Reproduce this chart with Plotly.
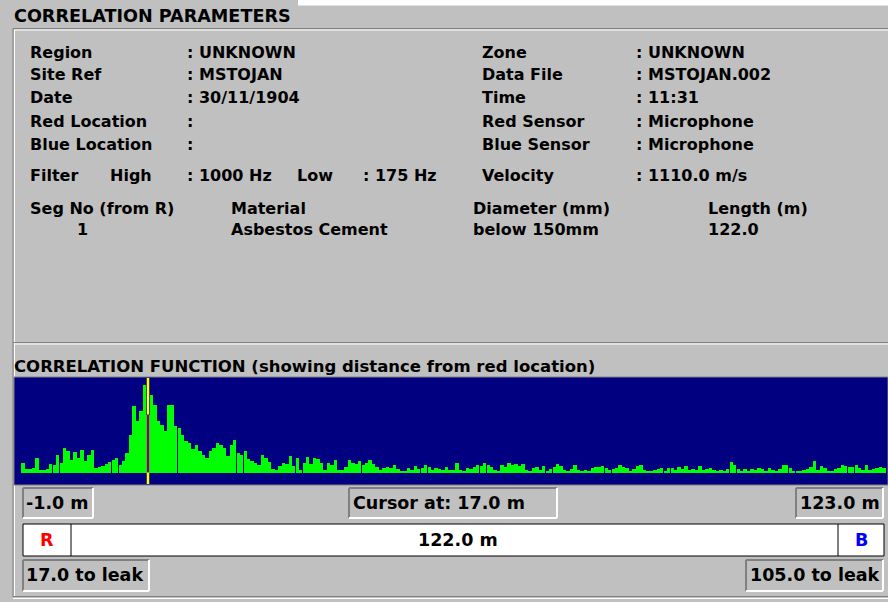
import plotly.graph_objects as go

# ---------------- data ----------------
dist_start_m = -1.0
dist_step_m = 0.5
corr_seg_a = [10, 4, 4, 5, 15, 3, 3, 4, 9, 8,
              18, 10, 25, 22, 13, 21, 15, 23, 12, 18,
              23, 5, 6, 7, 9, 11, 13, 15, 8, 12,
              20, 38, 67, 52, 62, 88, 58, 78, 68, 52,
              48, 42, 68, 68, 47, 45, 38, 32, 30, 24,
              28, 22, 18, 15, 22, 25, 30, 28, 25, 17,
              28, 33, 20, 18, 22, 14, 12, 10, 8, 18,
              15, 11, 4, 3, 7, 10, 9, 17, 7, 15,
              3, 10]
corr_seg_b = [16, 9, 15, 14, 10, 3, 10, 8, 13, 3,
              3, 6, 13, 10, 9, 12, 8, 10, 13, 9,
              6, 3, 5, 6, 5, 8, 4, 2, 2, 5,
              3, 7, 4, 5, 8, 6, 3, 5, 4, 3,
              6, 3, 3, 10, 3, 2, 5, 4, 6, 8,
              7, 10, 8, 6, 3, 2, 8, 6, 10, 8,
              9, 7, 9, 3, 2, 5, 6, 3, 7, 2,
              4, 6, 9, 7, 3, 2, 4, 8, 3, 2,
              3, 2, 5]
corr_seg_c = [6, 6, 7, 5, 3, 4, 5, 8, 6, 5,
              2, 4, 7, 8, 3, 2, 2, 3, 4, 5,
              2, 5, 5, 3, 6, 4, 7, 3, 4, 3,
              7, 3, 4, 5, 3, 2, 3, 2, 4, 11,
              8, 4, 2, 4, 2, 4, 3, 5, 4, 2,
              5, 3, 2, 4, 8, 8, 5, 2, 2, 2,
              3, 4, 6, 12, 3, 7, 5, 2, 2, 4,
              5, 8, 7, 6, 6, 8, 5, 3, 8, 3,
              4, 5, 6, 5]
corr_values = corr_seg_a + corr_seg_b + corr_seg_c
distance_m = [dist_start_m + dist_step_m * i for i in range(len(corr_values))]

cursor_m = 17.0
cursor_value = 58
range_left_m = -1.0
range_right_m = 123.0
pipe_length_m = 122.0
to_leak_red = 17.0
to_leak_blue = 105.0

param_labels_left = ["Region", "Site Ref", "Date", "Red Location", "Blue Location"]
param_values_left = [": UNKNOWN", ": MSTOJAN", ": 30/11/1904", ":", ":"]
param_labels_right = ["Zone", "Data File", "Time", "Red Sensor", "Blue Sensor"]
param_values_right = [": UNKNOWN", ": MSTOJAN.002", ": 11:31", ": Microphone", ": Microphone"]
seg_headers = ["Seg No (from R)", "Material", "Diameter (mm)", "Length (m)"]
seg_row = ["1", "Asbestos Cement", "below 150mm", "122.0"]

# ---------------- layout helpers ----------------
W, H = 888, 602
BG = "#c0c0c0"
DARK = "#808080"
FONT = "DejaVu Sans"


def px(x):
    return x / W


def py(y):
    return 1 - y / H


shapes = []
annotations = []


def line(x0, y0, x1, y1, color, width=1):
    shapes.append(dict(type="line", xref="paper", yref="paper",
                       x0=px(x0), y0=py(y0), x1=px(x1), y1=py(y1),
                       line=dict(color=color, width=width), layer="below"))


def rect(x0, y0, x1, y1, fill, lc=None, lw=0):
    shapes.append(dict(type="rect", xref="paper", yref="paper",
                       x0=px(x0), y0=py(y0), x1=px(x1), y1=py(y1),
                       fillcolor=fill, line=dict(color=lc or fill, width=lw), layer="below"))


def text(s, x, y, size=16, color="#000000", anchor="left"):
    annotations.append(dict(text=s, xref="paper", yref="paper", x=px(x), y=py(y),
                            xanchor=anchor, yanchor="middle", showarrow=False,
                            font=dict(family=FONT, size=size, color=color, weight="bold")))


def sunken(x0, y0, x1, y1):
    rect(x0, y0, x1, y1, BG)
    line(x0, y0, x1, y0, DARK, 2)
    line(x0, y0, x0, y1, DARK, 2)
    line(x0, y1, x1, y1, "#ffffff", 2)
    line(x1, y0, x1, y1, "#ffffff", 2)


# top white strip
rect(298, 0, 888, 5.5, "#ffffff")

# etched group frames
line(13, 28.5, 888, 28.5, DARK)
line(14, 30, 888, 30, "#ffffff")
line(13, 28.5, 13, 597, DARK)
line(14.5, 30, 14.5, 597, "#ffffff")
line(13, 342.5, 888, 342.5, DARK)
line(14, 344, 888, 344, "#ffffff")
line(13, 596.5, 888, 596.5, DARK)
line(13, 598.5, 888, 598.5, "#ffffff")

# chart border
rect(14, 377, 888, 485, "#000080", DARK, 1)

# titles
text("CORRELATION PARAMETERS", 12, 16, 17.6)
text("CORRELATION FUNCTION (showing distance from red location)", 12, 366, 16.5)

rows_y = [52, 74, 97, 121, 145]
for lab, val, y in zip(param_labels_left, param_values_left, rows_y):
    text(lab, 28, y)
    text(val, 185, y)
for lab, val, y in zip(param_labels_right, param_values_right, rows_y):
    text(lab, 480, y)
    text(val, 634, y)

text("Filter", 28, 175)
text("High", 108, 175)
text(": 1000 Hz", 185, 175)
text("Low", 295, 175)
text(": 175 Hz", 361, 175)
text("Velocity", 480, 175)
text(": 1110.0 m/s", 634, 175)

seg_x = [28, 229, 471, 706]
for h, x in zip(seg_headers, seg_x):
    text(h, x, 208)
text(seg_row[0], 75, 230)
for v, x in zip(seg_row[1:], seg_x[1:]):
    text(v, x, 230)

# readout boxes
BOX_FS = 17.5
sunken(23, 488, 93, 518)
text(f"-{abs(range_left_m):.1f} m", 24, 503, BOX_FS)
sunken(349, 488, 557, 518)
text(f"Cursor at: {cursor_m:.1f} m", 351, 503, BOX_FS)
sunken(796, 488, 883, 518)
text(f"{range_right_m:.1f} m", 882, 503, BOX_FS, anchor="right")

rect(23, 524, 884, 556, "#ffffff", "#000000", 1)
line(71, 524, 71, 556, "#000000")
line(838, 524, 838, 556, "#000000")
text("R", 47, 540, BOX_FS, "#ff0000", "center")
text("B", 861, 540, BOX_FS, "#0000ff", "center")
text(f"{pipe_length_m:.1f} m", 458, 540, BOX_FS, anchor="center")

sunken(23, 560, 149, 591)
text(f"{to_leak_red:.1f} to leak", 24, 575, BOX_FS)
sunken(746, 560, 883, 591)
text(f"{to_leak_blue:.1f} to leak", 882, 575, BOX_FS, anchor="right")

# ---------------- chart ----------------
px_per_m = (884 - 23) / (range_right_m - range_left_m)
x_lo = range_left_m - (23 - 15) / px_per_m
x_hi = range_right_m + (888 - 884) / px_per_m

fig = go.Figure()
fig.add_trace(go.Bar(x=distance_m, y=corr_values, width=dist_step_m * 0.97,
                     marker=dict(color="#00ff00", line=dict(width=0)),
                     hoverinfo="skip"))

# cursor
shapes.append(dict(type="line", xref="x", yref="y", x0=cursor_m, x1=cursor_m,
                   y0=-11.5, y1=94.5, line=dict(color="#ffff00", width=2.5), layer="above"))
shapes.append(dict(type="line", xref="x", yref="y", x0=cursor_m, x1=cursor_m,
                   y0=0, y1=cursor_value, line=dict(color="#800080", width=2.5), layer="above"))

fig.update_layout(
    width=W, height=H,
    margin=dict(l=0, r=0, t=0, b=0),
    paper_bgcolor=BG, plot_bgcolor="#000080",
    showlegend=False, bargap=0,
    xaxis=dict(domain=[px(15), 1.0], range=[x_lo, x_hi], showgrid=False, zeroline=False,
               showticklabels=False, ticks="", showline=False, fixedrange=True),
    yaxis=dict(domain=[py(484), py(378)], range=[-11.5, 94.5], showgrid=False, zeroline=False,
               showticklabels=False, ticks="", showline=False, fixedrange=True),
    shapes=shapes, annotations=annotations,
)

fig.write_html("out.html", config={"displayModeBar": False},
               post_script="document.body.style.margin='0';document.body.style.background='#c0c0c0';")
